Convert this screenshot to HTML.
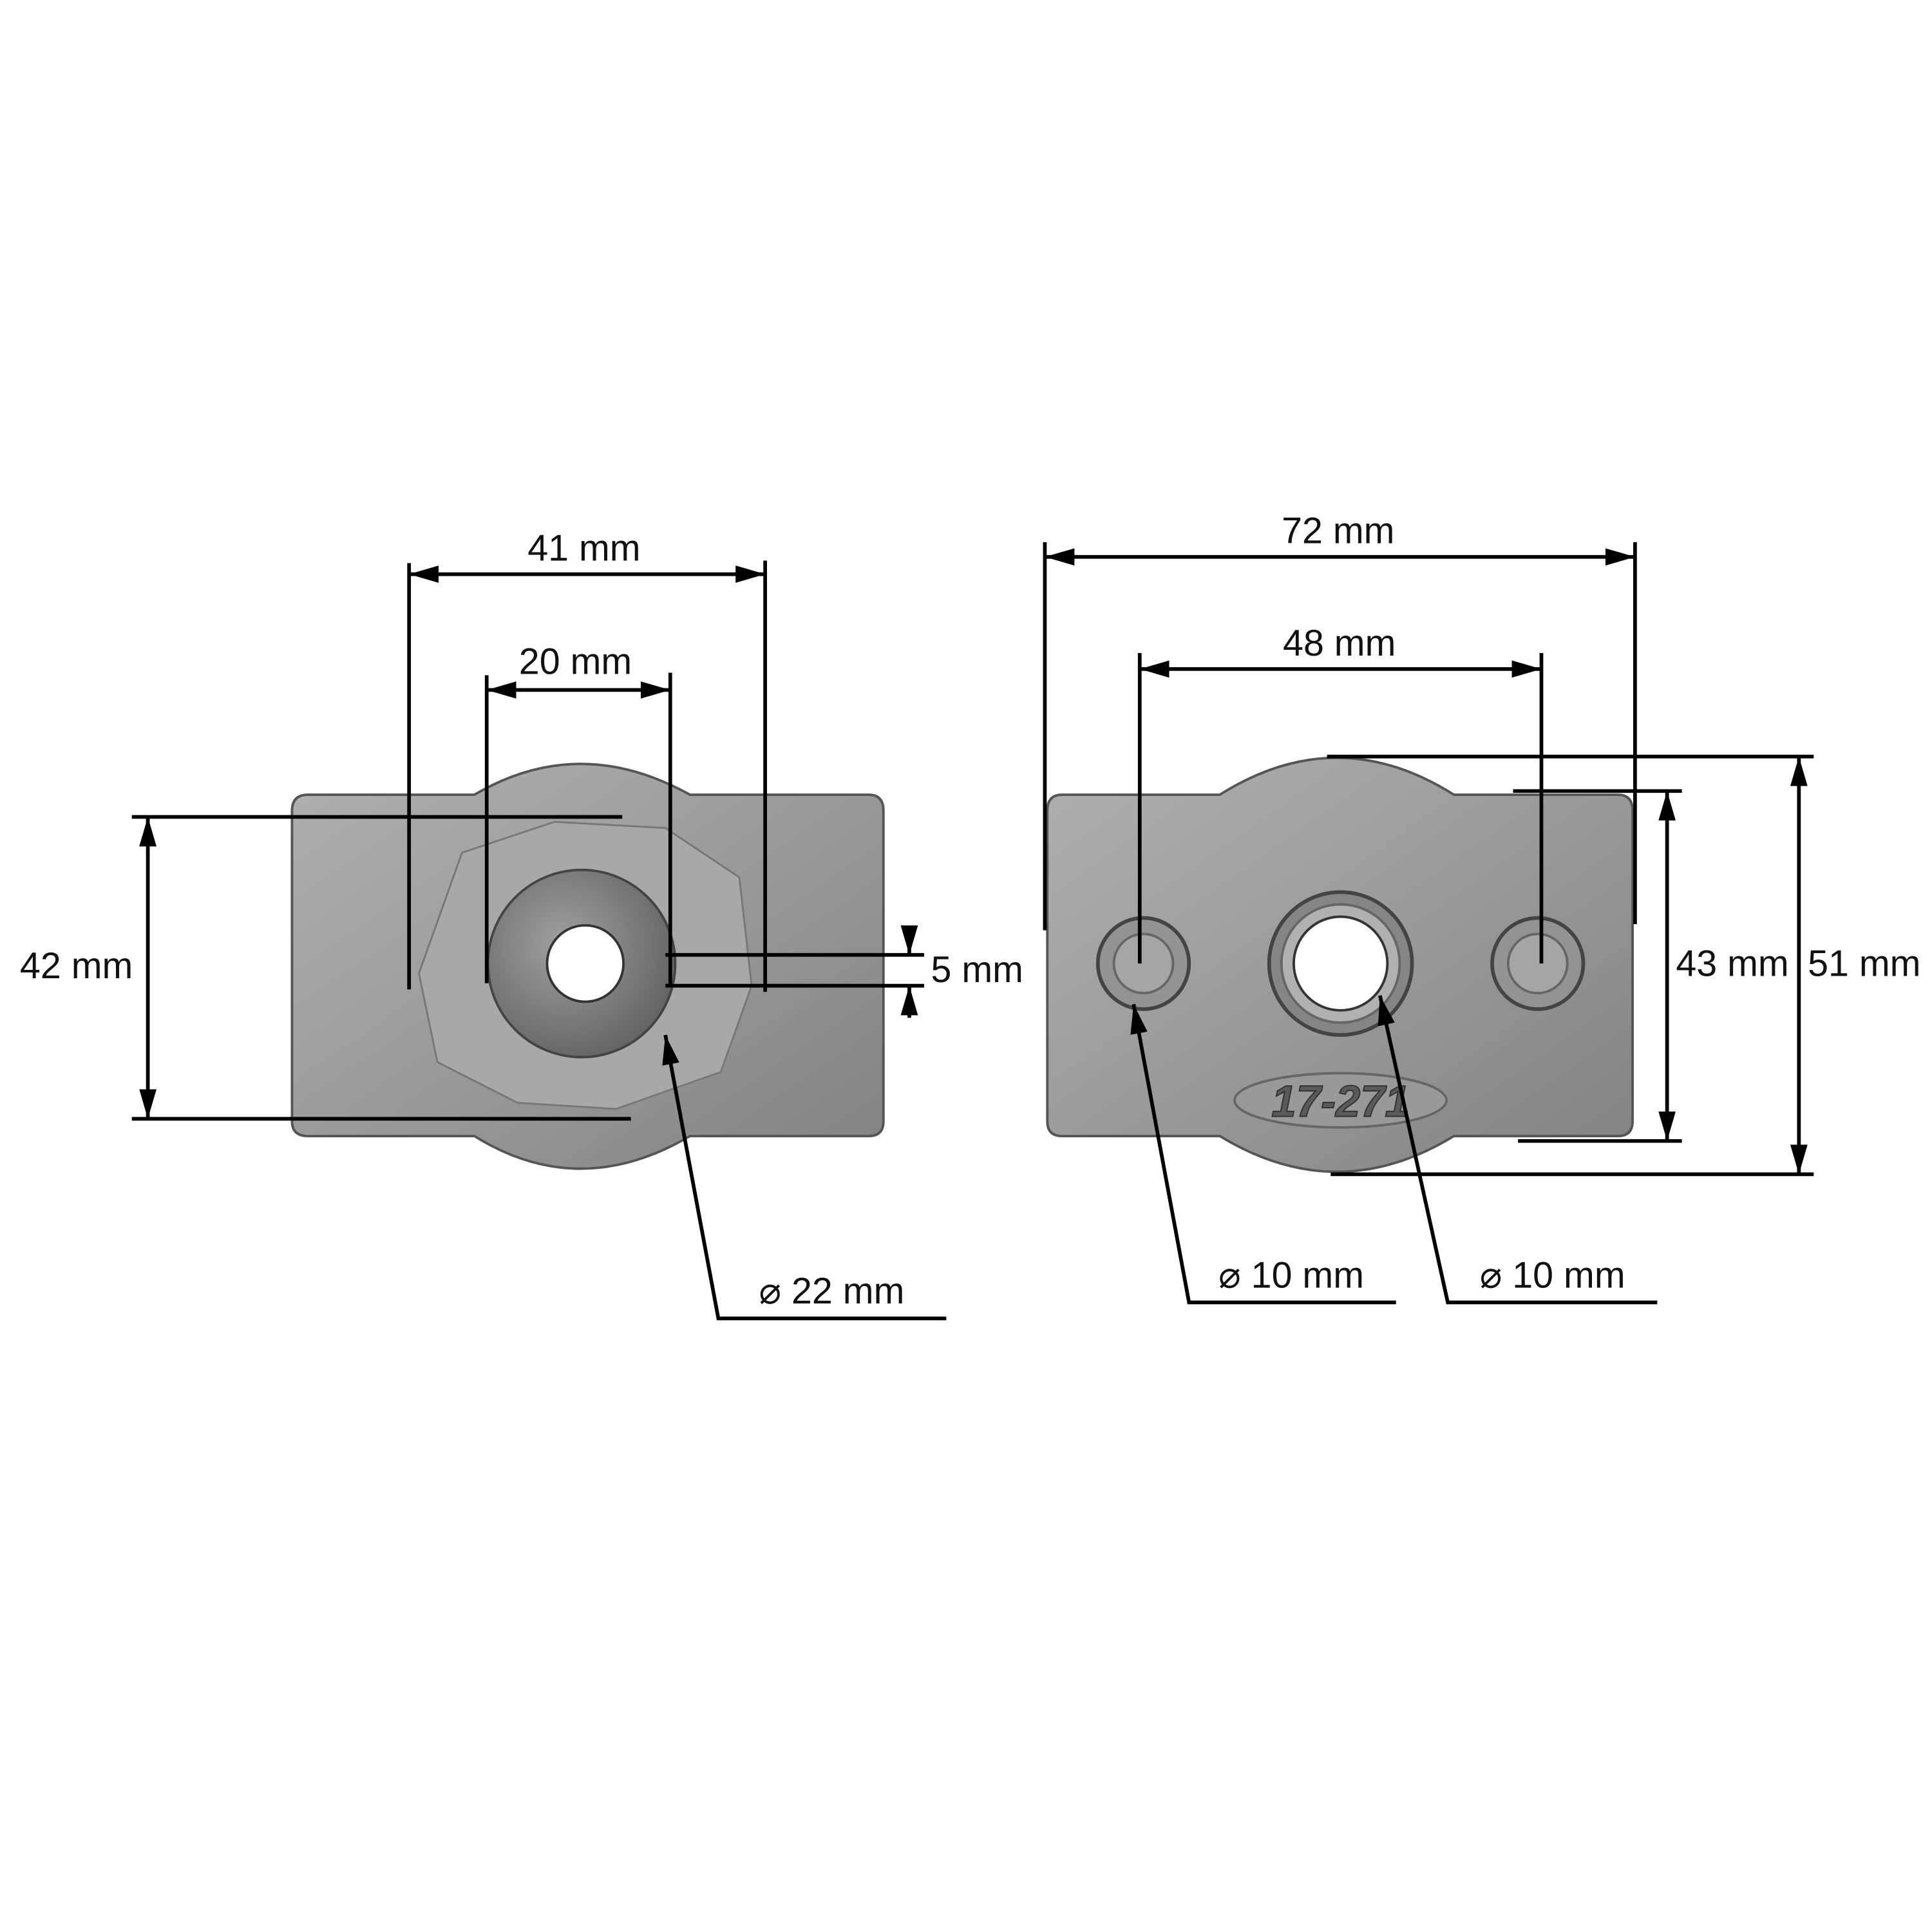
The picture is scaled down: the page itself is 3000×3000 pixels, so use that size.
<!DOCTYPE html>
<html><head><meta charset="utf-8"><style>
html,body{margin:0;padding:0;background:#fff}
svg{display:block}
text{font-family:"Liberation Sans",sans-serif;font-size:30px;fill:#111}
</style></head><body>
<svg width="3000" height="3000" viewBox="0 0 1568 1568" xmlns="http://www.w3.org/2000/svg">
<defs>
<marker id="b" viewBox="0 0 24 14" refX="24" refY="7" markerWidth="24" markerHeight="14" orient="auto-start-reverse" markerUnits="userSpaceOnUse"><path d="M0,0 L24,7 L0,14 z" fill="#000"/></marker>
<linearGradient id="g" x1="0" y1="0" x2="1" y2="1"><stop offset="0" stop-color="#b0b0b0"/><stop offset="0.5" stop-color="#9a9a9a"/><stop offset="1" stop-color="#828282"/></linearGradient>
<radialGradient id="r" cx="0.4" cy="0.4" r="0.7"><stop offset="0" stop-color="#a0a0a0"/><stop offset="1" stop-color="#5e5e5e"/></radialGradient>
</defs>

<!-- LEFT PART -->
<path d="M250,645 L385,645 Q470,595 560,645 L705,645 Q717,645 717,658 L717,910 Q717,922 705,922 L560,922 Q470,975 385,922 L250,922 Q237,922 237,910 L237,658 Q237,645 250,645 Z" fill="url(#g)" stroke="#555" stroke-width="2"/>
<path d="M375,692 L450,667 L540,672 L600,712 L610,800 L585,870 L500,900 L420,895 L355,862 L340,790 Z" fill="#a8a8a8" stroke="#777" stroke-width="1.5"/>
<circle cx="472" cy="782" r="76" fill="url(#r)" stroke="#444" stroke-width="2"/>
<circle cx="475" cy="782" r="31" fill="#fff" stroke="#333" stroke-width="2"/>

<g stroke="#000" stroke-width="3" fill="none">
<line x1="332" y1="457" x2="332" y2="803"/>
<line x1="621" y1="455" x2="621" y2="805"/>
<line x1="332" y1="466" x2="621" y2="466" marker-start="url(#b)" marker-end="url(#b)"/>
<line x1="395" y1="548" x2="395" y2="798"/>
<line x1="544" y1="546" x2="544" y2="800"/>
<line x1="395" y1="560" x2="544" y2="560" marker-start="url(#b)" marker-end="url(#b)"/>
<line x1="107" y1="663" x2="505" y2="663"/>
<line x1="107" y1="908" x2="512" y2="908"/>
<line x1="120" y1="663" x2="120" y2="908" marker-start="url(#b)" marker-end="url(#b)"/>
<line x1="540" y1="775" x2="750" y2="775"/>
<line x1="540" y1="800" x2="750" y2="800"/>
<line x1="738" y1="752" x2="738" y2="775" marker-end="url(#b)"/>
<line x1="738" y1="826" x2="738" y2="800" marker-end="url(#b)"/>
<polyline points="768,1070 583,1070 540,840" marker-end="url(#b)"/>
</g>
<text x="474" y="455" text-anchor="middle">41 mm</text>
<text x="467" y="547" text-anchor="middle">20 mm</text>
<text x="62" y="794" text-anchor="middle">42 mm</text>
<text x="793" y="797" text-anchor="middle">5 mm</text>
<text x="675" y="1058" text-anchor="middle">⌀ 22 mm</text>

<!-- RIGHT PART -->
<path d="M862,645 L990,645 Q1085,585 1180,645 L1313,645 Q1325,645 1325,658 L1325,910 Q1325,922 1313,922 L1180,922 Q1085,980 990,922 L862,922 Q850,922 850,910 L850,658 Q850,645 862,645 Z" fill="url(#g)" stroke="#555" stroke-width="2"/>
<circle cx="928" cy="782" r="37" fill="#939393" stroke="#444" stroke-width="3"/>
<circle cx="928" cy="782" r="24" fill="#a5a5a5" stroke="#666" stroke-width="2"/>
<circle cx="1248" cy="782" r="37" fill="#939393" stroke="#444" stroke-width="3"/>
<circle cx="1248" cy="782" r="24" fill="#a5a5a5" stroke="#666" stroke-width="2"/>
<circle cx="1088" cy="782" r="58" fill="#858585" stroke="#444" stroke-width="3"/>
<circle cx="1088" cy="782" r="48" fill="#b0b0b0" stroke="#666" stroke-width="2"/>
<circle cx="1088" cy="782" r="38" fill="#fff" stroke="#333" stroke-width="2"/>
<ellipse cx="1088" cy="893" rx="86" ry="22" fill="#999" stroke="#666" stroke-width="2"/>
<text x="1088" y="906" text-anchor="middle" style="font-size:36px;font-weight:bold;font-style:italic;fill:#5a5a5a;stroke:#333;stroke-width:1">17-271</text>

<g stroke="#000" stroke-width="3" fill="none">
<line x1="848" y1="440" x2="848" y2="755"/>
<line x1="1327" y1="440" x2="1327" y2="750"/>
<line x1="848" y1="452" x2="1327" y2="452" marker-start="url(#b)" marker-end="url(#b)"/>
<line x1="925" y1="530" x2="925" y2="782"/>
<line x1="1251" y1="530" x2="1251" y2="782"/>
<line x1="925" y1="543" x2="1251" y2="543" marker-start="url(#b)" marker-end="url(#b)"/>
<line x1="1228" y1="642" x2="1365" y2="642"/>
<line x1="1232" y1="926" x2="1365" y2="926"/>
<line x1="1353" y1="642" x2="1353" y2="926" marker-start="url(#b)" marker-end="url(#b)"/>
<line x1="1077" y1="614" x2="1472" y2="614"/>
<line x1="1080" y1="953" x2="1472" y2="953"/>
<line x1="1460" y1="614" x2="1460" y2="953" marker-start="url(#b)" marker-end="url(#b)"/>
<polyline points="1133,1057 965,1057 920,815" marker-end="url(#b)"/>
<polyline points="1345,1057 1175,1057 1120,808" marker-end="url(#b)"/>
</g>
<text x="1086" y="441" text-anchor="middle">72 mm</text>
<text x="1087" y="532" text-anchor="middle">48 mm</text>
<text x="1406" y="792" text-anchor="middle">43 mm</text>
<text x="1513" y="792" text-anchor="middle">51 mm</text>
<text x="1048" y="1045" text-anchor="middle">⌀ 10 mm</text>
<text x="1260" y="1045" text-anchor="middle">⌀ 10 mm</text>
</svg>
</body></html>
